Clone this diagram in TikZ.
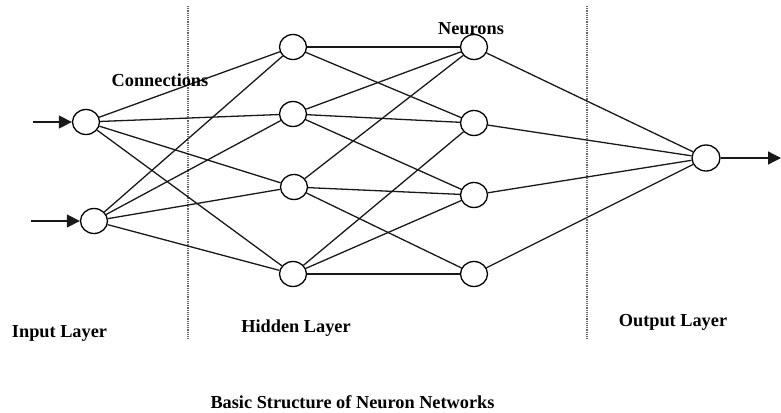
\documentclass[tikz,border=0pt]{standalone}
\usepackage{fontspec}
\setmainfont{Liberation Serif}
\usetikzlibrary{arrows.meta,shapes.geometric}
\begin{document}
\begin{tikzpicture}[x=1pt,y=-1pt,
  neuron/.style={draw, ellipse, line width=1.3pt, minimum width=27pt, minimum height=25pt, inner sep=0pt, fill=white},
  link/.style={line width=1.3pt, draw=black!90},
  divider/.style={line width=1.3pt, draw=black!60, dash pattern=on 1.2pt off 1pt},
  caption/.style={font=\fontsize{18.3}{20}\selectfont\bfseries, anchor=base, inner sep=0pt},
  feed/.style={link, -{Triangle[length=13pt,width=13pt]}}]
\useasboundingbox (0,0) rectangle (781,412);

% layer dividers
\coordinate (d1t) at (188,6);   \coordinate (d1b) at (188,340);
\coordinate (d2t) at (587,6);   \coordinate (d2b) at (587,340);
\draw[divider] (d1t) -- (d1b);
\draw[divider] (d2t) -- (d2b);

% neurons
\node[neuron] (i1) at (86,122) {};
\node[neuron] (i2) at (94,221) {};
\node[neuron] (h1) at (293,47) {};
\node[neuron] (h2) at (293,114) {};
\node[neuron] (h3) at (294,187) {};
\node[neuron] (h4) at (293,274) {};
\node[neuron] (n1) at (474,47) {};
\node[neuron] (n2) at (474,123) {};
\node[neuron] (n3) at (474,195) {};
\node[neuron] (n4) at (474,274) {};
\node[neuron, minimum width=28pt, minimum height=26pt] (o) at (706,158) {};

% input to first hidden layer
\foreach \s in {i1,i2}
  \foreach \t in {h1,h2,h3,h4}
    \draw[link] (\s) -- (\t);

% first to second hidden layer
\draw[link] (h1) -- (n1);
\draw[link] (h1) -- (n2);
\draw[link] (h2) -- (n1);
\draw[link] (h2) -- (n2);
\draw[link] (h2) -- (n3);
\draw[link] (h3) -- (n1);
\draw[link] (h3) -- (n3);
\draw[link] (h3) -- (n4);
\draw[link] (h4) -- (n2);
\draw[link] (h4) -- (n3);
\draw[link] (h4) -- (n4);

% second hidden layer to output
\foreach \s in {n1,n2,n3,n4}
  \draw[link] (\s) -- (o);

% external inputs and output
\coordinate (x1) at (33,122);
\coordinate (x2) at (31,221);
\coordinate (y1) at (781,158);
\draw[feed] (x1) -- (i1);
\draw[feed] (x2) -- (i2);
\draw[feed] (o) -- (y1);

% labels
\node[caption] (lconn) at (160,86) {Connections};
\node[caption] (lneur) at (471,35) {Neurons};
\node[caption] (lin)   at (59.5,337) {Input Layer};
\node[caption] (lhid)  at (296,332) {Hidden Layer};
\node[caption] (lout)  at (673,326) {Output Layer};
\node[caption] (ltitle) at (352.5,408) {Basic Structure of Neuron Networks};
\end{tikzpicture}
\end{document}
